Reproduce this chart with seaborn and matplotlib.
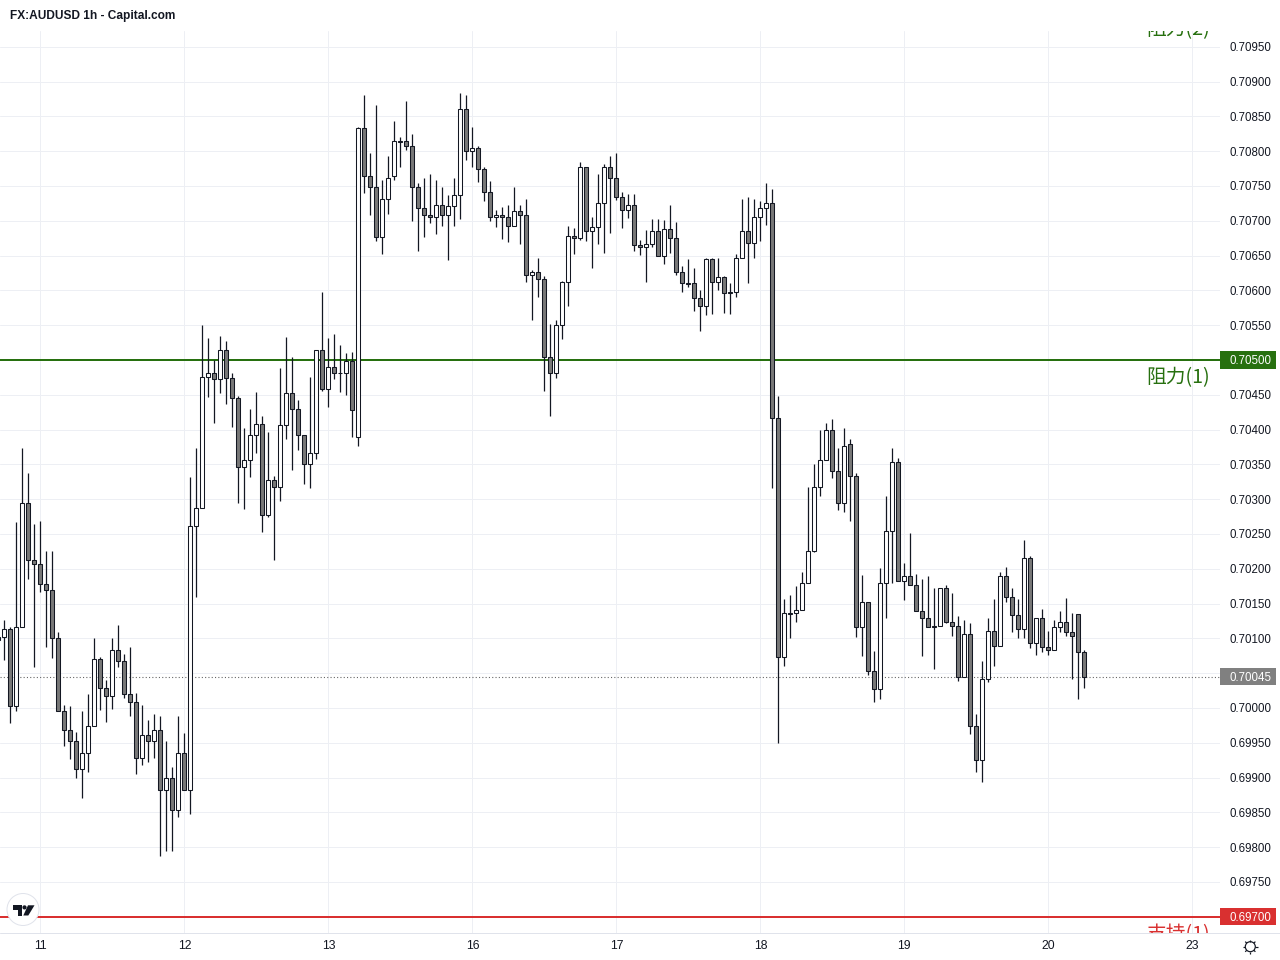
import numpy as np
import pandas as pd
import matplotlib
matplotlib.use("Agg")
import matplotlib.pyplot as plt
from matplotlib.patches import Circle, Polygon
from matplotlib.transforms import blended_transform_factory, offset_copy
import seaborn as sns

# AUD/USD hourly quotes, in units of 0.00001
opens = [
    70102, 70102, 70113, 70003, 70116, 70295, 70212, 70207, 70178, 70170, 70100, 69995, 69968, 69953,
    69912, 69935, 69974, 70071, 70028, 70017, 70084, 70068, 70020, 70008, 69928, 69961, 69952, 69969,
    69882, 69899, 69854, 69935, 69882, 70261, 70287, 70476, 70482, 70472, 70515, 70474, 70445, 70346,
    70356, 70392, 70408, 70277, 70327, 70317, 70406, 70452, 70429, 70392, 70350, 70367, 70515, 70459,
    70490, 70482, 70481, 70499, 70389, 70833, 70765, 70748, 70676, 70731, 70765, 70814, 70814, 70808,
    70748, 70718, 70709, 70706, 70722, 70709, 70721, 70737, 70860, 70801, 70804, 70774, 70742, 70705,
    70708, 70706, 70692, 70714, 70709, 70622, 70626, 70617, 70505, 70482, 70550, 70612, 70678, 70675,
    70777, 70686, 70691, 70725, 70777, 70762, 70734, 70716, 70722, 70665, 70662, 70666, 70686, 70650,
    70688, 70675, 70626, 70610, 70610, 70589, 70577, 70645, 70612, 70619, 70597, 70597, 70646, 70686,
    70668, 70706, 70719, 70726, 70416, 70073, 70136, 70136, 70141, 70180, 70226, 70317, 70357, 70399,
    70340, 70294, 70380, 70334, 70117, 70153, 70053, 70027, 70179, 70254, 70354, 70183, 70189, 70176,
    70139, 70130, 70118, 70118, 70172, 70124, 70118, 70045, 70106, 69974, 69925, 70041, 70110, 70089,
    70189, 70159, 70133, 70114, 70215, 70093, 70129, 70087, 70083, 70116, 70123, 70109, 70135, 70080,
]
closes = [
    70098, 70113, 70003, 70116, 70295, 70212, 70207, 70178, 70170, 70100, 69995, 69968, 69953, 69912,
    69935, 69974, 70071, 70028, 70017, 70084, 70068, 70020, 70008, 69928, 69961, 69952, 69969, 69882,
    69899, 69854, 69935, 69882, 70261, 70287, 70476, 70482, 70472, 70515, 70474, 70445, 70346, 70356,
    70392, 70408, 70277, 70327, 70317, 70406, 70452, 70429, 70392, 70350, 70367, 70515, 70459, 70490,
    70482, 70481, 70499, 70428, 70833, 70765, 70748, 70676, 70731, 70762, 70814, 70813, 70808, 70748,
    70718, 70709, 70706, 70722, 70709, 70721, 70737, 70860, 70801, 70804, 70774, 70742, 70705, 70708,
    70706, 70692, 70714, 70709, 70622, 70626, 70617, 70505, 70482, 70550, 70612, 70678, 70675, 70777,
    70686, 70691, 70725, 70777, 70762, 70734, 70716, 70722, 70665, 70662, 70666, 70686, 70650, 70688,
    70675, 70626, 70610, 70609, 70589, 70577, 70645, 70612, 70619, 70596, 70596, 70646, 70686, 70668,
    70706, 70719, 70726, 70416, 70073, 70136, 70135, 70141, 70180, 70226, 70317, 70357, 70399, 70340,
    70294, 70377, 70334, 70117, 70153, 70053, 70027, 70179, 70254, 70354, 70183, 70189, 70176, 70139,
    70130, 70117, 70117, 70172, 70124, 70118, 70045, 70106, 69974, 69925, 70041, 70110, 70089, 70189,
    70159, 70133, 70114, 70215, 70093, 70129, 70087, 70083, 70116, 70123, 70109, 70103, 70080, 70045,
]
highs = [
    70126, 70126, 70116, 70267, 70373, 70337, 70265, 70268, 70225, 70225, 70109, 70004, 70003, 69966,
    69996, 70020, 70101, 70073, 70040, 70100, 70119, 70077, 70087, 70021, 70004, 69983, 69991, 69988,
    69952, 69915, 69988, 69964, 70332, 70373, 70550, 70531, 70500, 70534, 70527, 70482, 70448, 70402,
    70429, 70454, 70420, 70397, 70334, 70489, 70533, 70504, 70443, 70392, 70476, 70515, 70597, 70531,
    70538, 70521, 70510, 70511, 70835, 70881, 70798, 70866, 70759, 70793, 70844, 70820, 70872, 70824,
    70755, 70762, 70767, 70758, 70748, 70737, 70762, 70883, 70881, 70835, 70808, 70778, 70757, 70716,
    70720, 70722, 70748, 70722, 70732, 70629, 70646, 70620, 70551, 70557, 70613, 70692, 70689, 70785,
    70777, 70705, 70767, 70781, 70793, 70797, 70742, 70739, 70739, 70672, 70687, 70703, 70702, 70701,
    70722, 70698, 70635, 70645, 70632, 70601, 70646, 70646, 70646, 70620, 70610, 70652, 70731, 70734,
    70731, 70729, 70754, 70745, 70448, 70156, 70162, 70175, 70196, 70318, 70350, 70399, 70409, 70415,
    70374, 70403, 70386, 70337, 70191, 70153, 70082, 70201, 70304, 70374, 70359, 70209, 70251, 70193,
    70185, 70189, 70173, 70172, 70176, 70165, 70132, 70126, 70122, 69991, 70067, 70130, 70156, 70196,
    70202, 70173, 70156, 70241, 70219, 70129, 70142, 70110, 70127, 70139, 70158, 70136, 70135, 70083,
]
lows = [
    70069, 70069, 69979, 69996, 70116, 70186, 70059, 70166, 70088, 70072, 69995, 69946, 69926, 69900,
    69871, 69908, 69974, 69997, 69980, 69999, 70059, 70015, 69989, 69905, 69918, 69923, 69928, 69788,
    69795, 69795, 69844, 69882, 69847, 70160, 70287, 70447, 70410, 70453, 70437, 70404, 70295, 70286,
    70332, 70367, 70253, 70275, 70212, 70298, 70387, 70342, 70371, 70322, 70316, 70358, 70456, 70433,
    70472, 70454, 70450, 70390, 70377, 70740, 70709, 70671, 70653, 70710, 70759, 70778, 70802, 70700,
    70657, 70676, 70697, 70681, 70693, 70644, 70693, 70703, 70788, 70778, 70756, 70729, 70699, 70691,
    70674, 70670, 70692, 70667, 70612, 70558, 70591, 70456, 70420, 70474, 70530, 70578, 70653, 70673,
    70671, 70632, 70666, 70654, 70683, 70730, 70690, 70704, 70656, 70651, 70612, 70662, 70650, 70638,
    70654, 70622, 70598, 70605, 70571, 70542, 70565, 70566, 70600, 70568, 70566, 70591, 70646, 70610,
    70646, 70671, 70694, 70316, 69950, 70061, 70101, 70124, 70141, 70180, 70224, 70305, 70357, 70331,
    70285, 70282, 70269, 70102, 70074, 70048, 70009, 70013, 70130, 70180, 70183, 70155, 70176, 70139,
    70074, 70117, 70056, 70118, 70122, 70103, 70039, 70045, 69963, 69908, 69893, 70038, 70061, 70089,
    70153, 70109, 70101, 70101, 70086, 70076, 70080, 70076, 70083, 70109, 70103, 70042, 70013, 70029,
]
first_bar = -1

day_ticks = [6, 30, 54, 78, 102, 126, 150, 174, 198]
day_labels = ["11", "12", "13", "16", "17", "18", "19", "20", "23"]
price_ticks = [0.6975 + 0.0005 * i for i in range(25)]

resistance_1 = 0.70500
resistance_2 = 0.71000
support_1 = 0.69700
last_price = 0.70045

INK = "#131722"
GRID = "#edeff4"
GREEN = "#27700f"
RED = "#d93030"
GREY = "#808080"
BODY_DOWN = "#787878"
PX = 0.72  # one pixel at 100 dpi, in points
WICK = 1.25 * PX
EDGE = 1.05 * PX

sns.set_theme(style="white")
plt.rcParams["font.family"] = ["Liberation Sans", "Noto Sans CJK SC", "DejaVu Sans"]
plt.rcParams["axes.unicode_minus"] = False

frame = pd.DataFrame({"open": opens, "close": closes, "high": highs, "low": lows}) / 1e5
frame["bar"] = np.arange(len(frame)) + first_bar
frame["base"] = frame[["open", "close"]].min(axis=1)
frame["span"] = (frame["close"] - frame["open"]).abs()
rising = frame["close"] >= frame["open"]

fig = plt.figure(figsize=(12.8, 9.6), dpi=100, facecolor="white")
top_px, bottom_px, right_px = 31, 933, 1220
ax = fig.add_axes([0, 1 - bottom_px / 960, right_px / 1280, (bottom_px - top_px) / 960])

# Wicks: one two-point line for each hour
wicks = frame.melt(id_vars="bar", value_vars=["high", "low"], value_name="price")
sns.lineplot(data=wicks, x="bar", y="price", units="bar", estimator=None, color=INK,
             linewidth=WICK, legend=False, ax=ax, zorder=3, solid_capstyle="butt")

# Candle bodies
for mask, fill in ((rising, "white"), (~rising, BODY_DOWN)):
    part = frame[mask]
    sns.barplot(x=part["bar"].to_numpy(), y=part["span"].to_numpy(), bottom=part["base"].to_numpy(),
                native_scale=True, width=0.667, color=fill, saturation=1, edgecolor=INK,
                linewidth=EDGE, errorbar=None, ax=ax, zorder=4)

ax.set_xlim(-0.7333, 202.6)
ax.set_ylim(0.696767, 0.709727)
ax.set_xlabel("")
ax.set_ylabel("")
for side in ax.spines.values():
    side.set_visible(False)

ax.set_xticks(day_ticks)
ax.set_xticklabels(day_labels)
ax.yaxis.tick_right()
ax.set_yticks(price_ticks)
# Two scale positions are covered by the price tags and carry no label of their own
covered = {f"{resistance_1:.5f}", "0.70050"}
ax.set_yticklabels(["" if f"{p:.5f}" in covered else f"{p:.5f}" for p in price_ticks])
ax.tick_params(axis="both", length=0, labelsize=8.3, labelcolor=INK)
ax.tick_params(axis="x", pad=5.0, labelsize=8.8)
ax.tick_params(axis="y", pad=7.2)
ax.grid(True, color=GRID, linewidth=PX)
ax.set_axisbelow(True)

# Support, resistance and last-price levels
ax.axhline(resistance_1, color=GREEN, linewidth=2 * PX, zorder=2)
ax.axhline(support_1, color=RED, linewidth=2 * PX, zorder=2)
ax.axhline(last_price, color="#666666", linewidth=1.1 * PX, linestyle=(0, (1, 2)), zorder=2)

# Level captions sit just under their lines and are cut off at the pane edge
below = offset_copy(ax.transData, fig=fig, y=-18, units="dots")
cjk = ["Noto Sans CJK SC", "DejaVu Sans"]
caption_x = (1210 - 4.4) / 6
for level, caption, tone in ((resistance_1, "阻力(1)", GREEN), (resistance_2, "阻力(2)", GREEN),
                             (support_1, "支持(1)", RED)):
    ax.text(caption_x, level, caption, color=tone, fontsize=14.2, family=cjk, ha="right", va="center",
            transform=below, clip_on=True, zorder=5)

# Price tags on the right-hand scale
tag_axis = blended_transform_factory(ax.transAxes, ax.transData)
tag_height = 0.00025
tag_width = 56 / right_px
for level, tone in ((resistance_1, GREEN), (last_price, GREY), (support_1, RED)):
    ax.add_patch(plt.Rectangle((1, level - tag_height / 2), tag_width, tag_height, transform=tag_axis,
                               facecolor=tone, edgecolor="none", clip_on=False, zorder=6))
    ax.text(1 + 10 / right_px, level, f"{level:.5f}", color="white", fontsize=8.3, ha="left",
            va="center_baseline", transform=tag_axis, clip_on=False, zorder=7)

# Header, scale border, logo badge and settings glyph in figure pixels
chrome = fig.add_axes([0, 0, 1, 1], facecolor="none", zorder=10)
chrome.set_xlim(0, 1280)
chrome.set_ylim(960, 0)
chrome.axis("off")
chrome.text(10, 16, "FX:AUDUSD 1h - Capital.com", color=INK, fontsize=8.55, fontweight="bold",
            ha="left", va="center")
chrome.plot([0, 1280], [932.5, 932.5], color="#e0e3eb", linewidth=PX)
chrome.add_patch(Circle((23, 909.5), 16, facecolor="white", edgecolor="#e0e3eb", linewidth=PX))
chrome.add_patch(Polygon([(13, 905.3), (22.3, 905.3), (22.3, 915.5), (17.7, 915.5), (17.7, 910), (13, 910)],
                         facecolor=INK, edgecolor="none"))
chrome.add_patch(Circle((24.5, 907.4), 2.1, facecolor=INK, edgecolor="none"))
chrome.add_patch(Polygon([(28, 905.3), (34.5, 905.3), (28.3, 915.5), (23.3, 915.5)],
                         facecolor=INK, edgecolor="none"))
gear = (1250.3, 946.7)
chrome.add_patch(Circle(gear, 5, facecolor="white", edgecolor=INK, linewidth=PX * 1.2))
for angle in np.deg2rad(np.arange(0, 360, 45)):
    chrome.plot([gear[0] + 5 * np.cos(angle), gear[0] + 7.2 * np.cos(angle)],
                [gear[1] + 5 * np.sin(angle), gear[1] + 7.2 * np.sin(angle)],
                color=INK, linewidth=PX * 1.2, solid_capstyle="butt")

fig.savefig("out.png", dpi=100)
